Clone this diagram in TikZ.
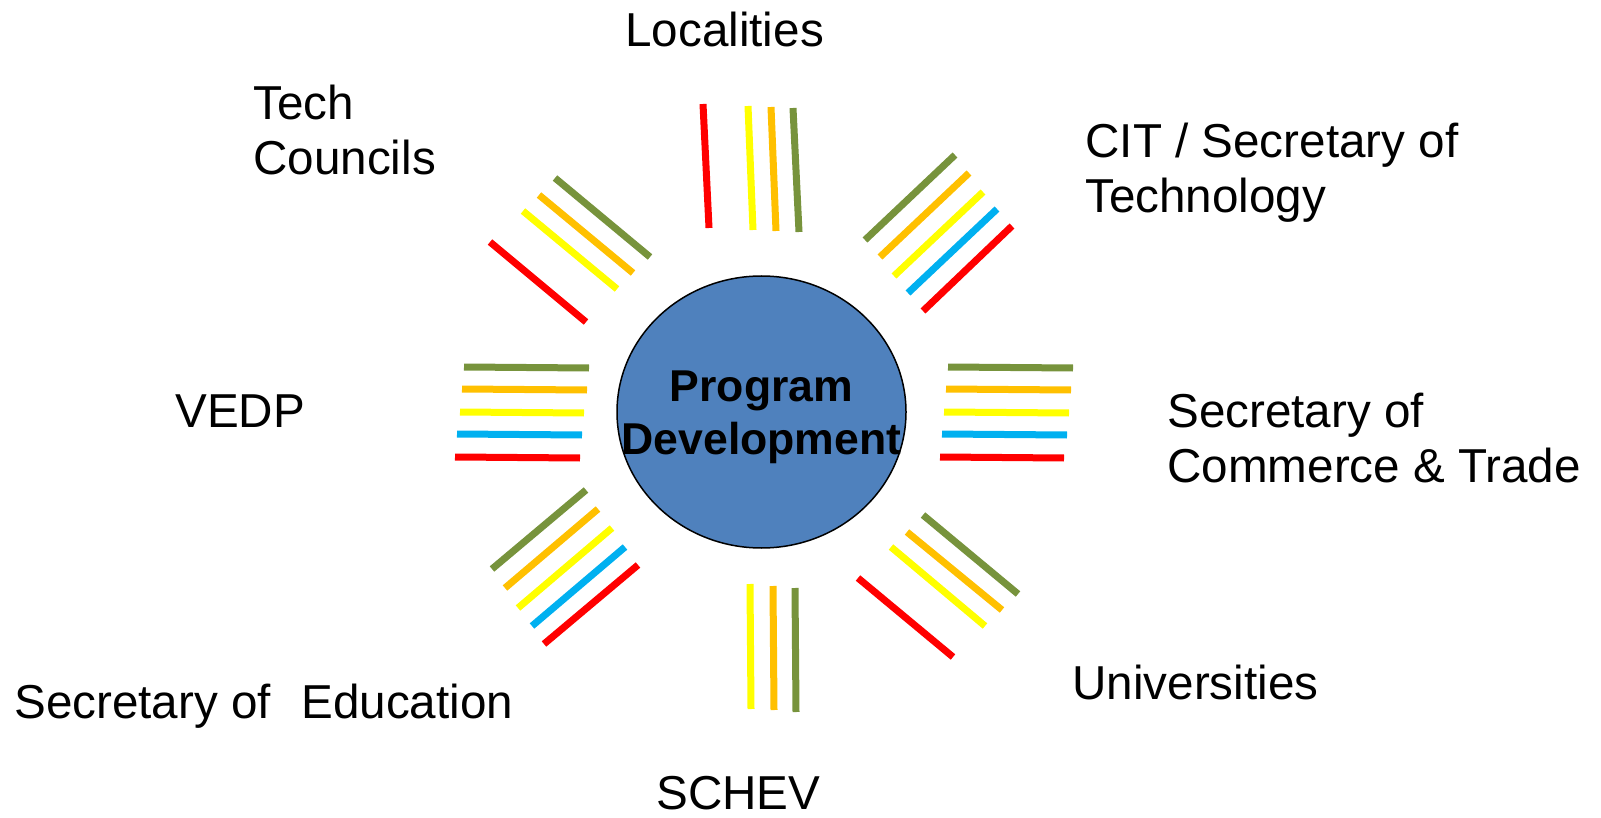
\documentclass[tikz,border=0pt]{standalone}
\usepackage{fontspec}
\setmainfont{Liberation Sans}
\usetikzlibrary{shapes.geometric}

\definecolor{barred}{HTML}{FF0000}
\definecolor{baryellow}{HTML}{FFFF00}
\definecolor{barorange}{HTML}{FFC000}
\definecolor{bargreen}{HTML}{77933C}
\definecolor{barblue}{HTML}{00B0F0}
\definecolor{hubblue}{HTML}{4F81BD}

\tikzset{
    bar/.style={line width=3.5pt},
    hub/.style={ellipse, draw=black, line width=0.75pt, fill=hubblue,
        minimum width=144.5pt, minimum height=136pt, inner sep=0pt},
    hubtext/.style={align=center, inner sep=0pt, yshift=-2.5pt,
        font=\bfseries\fontsize{22.3}{26.5}\selectfont},
    lbl/.style={anchor=base west, align=left, inner sep=0pt,
        font=\fontsize{23.8}{27.5}\selectfont}
}

\begin{document}
\begin{tikzpicture}[x=0.5pt,y=-0.5pt]
    \useasboundingbox (0,0) rectangle (1601,818);
    \node[hub, label={[hubtext]center:Program\\Development}] (hub) at (761.5,412) {};

    % Localities
    \draw[bar,barred] (703,104) -- (709,228);
    \draw[bar,baryellow] (748,106) -- (753,230);
    \draw[bar,barorange] (771,107) -- (776,231);
    \draw[bar,bargreen] (793,108) -- (799,232);
    % CIT
    \draw[bar,bargreen] (865,240) -- (955,155);
    \draw[bar,barorange] (880,257) -- (969,173);
    \draw[bar,baryellow] (894,276) -- (983,192);
    \draw[bar,barblue] (908,293) -- (997,209);
    \draw[bar,barred] (923,311) -- (1012,226);
    % Commerce
    \draw[bar,bargreen] (948,367) -- (1073,368);
    \draw[bar,barorange] (946,389) -- (1071,390);
    \draw[bar,baryellow] (944,412) -- (1069,413);
    \draw[bar,barblue] (942,434) -- (1067,435);
    \draw[bar,barred] (940,457) -- (1064,458);
    % Universities
    \draw[bar,bargreen] (923,515) -- (1018,594);
    \draw[bar,barorange] (907,532) -- (1002,610);
    \draw[bar,baryellow] (891,547) -- (985,626);
    \draw[bar,barred] (858,578) -- (953,657);
    % SCHEV
    \draw[bar,baryellow] (750,584) -- (751,709);
    \draw[bar,barorange] (773,586) -- (774,710);
    \draw[bar,bargreen] (795,588) -- (796,712);
    % Education
    \draw[bar,bargreen] (586,490) -- (492,569);
    \draw[bar,barorange] (598,509) -- (505,588);
    \draw[bar,baryellow] (612,528) -- (518,608);
    \draw[bar,barblue] (625,547) -- (532,626);
    \draw[bar,barred] (638,565) -- (544,644);
    % VEDP
    \draw[bar,bargreen] (464,367) -- (589,368);
    \draw[bar,barorange] (462,389) -- (587,390);
    \draw[bar,baryellow] (460,412) -- (584,413);
    \draw[bar,barblue] (457,434) -- (582,435);
    \draw[bar,barred] (455,457) -- (580,458);
    % Tech Councils
    \draw[bar,bargreen] (555,178) -- (650,257);
    \draw[bar,barorange] (539,195) -- (633,273);
    \draw[bar,baryellow] (523,211) -- (617,289);
    \draw[bar,barred] (490,242) -- (586,322);

    \node[lbl] (loc) at (625,47) {Localities};
    \node[lbl] (tech) at (253,175) {Tech\\Councils};
    \node[lbl] (cit) at (1085,213) {CIT / Secretary of\\Technology};
    \node[lbl] (comm) at (1167,482) {Secretary of\\Commerce \& Trade};
    \node[lbl] (univ) at (1072,699) {Universities};
    \node[lbl] (schev) at (656,809) {SCHEV};
    \node[lbl] (educ) at (14,718) {Secretary of\ \ \hspace{2pt}Education};
    \node[lbl] (vedp) at (175,427) {VEDP};
\end{tikzpicture}
\end{document}
